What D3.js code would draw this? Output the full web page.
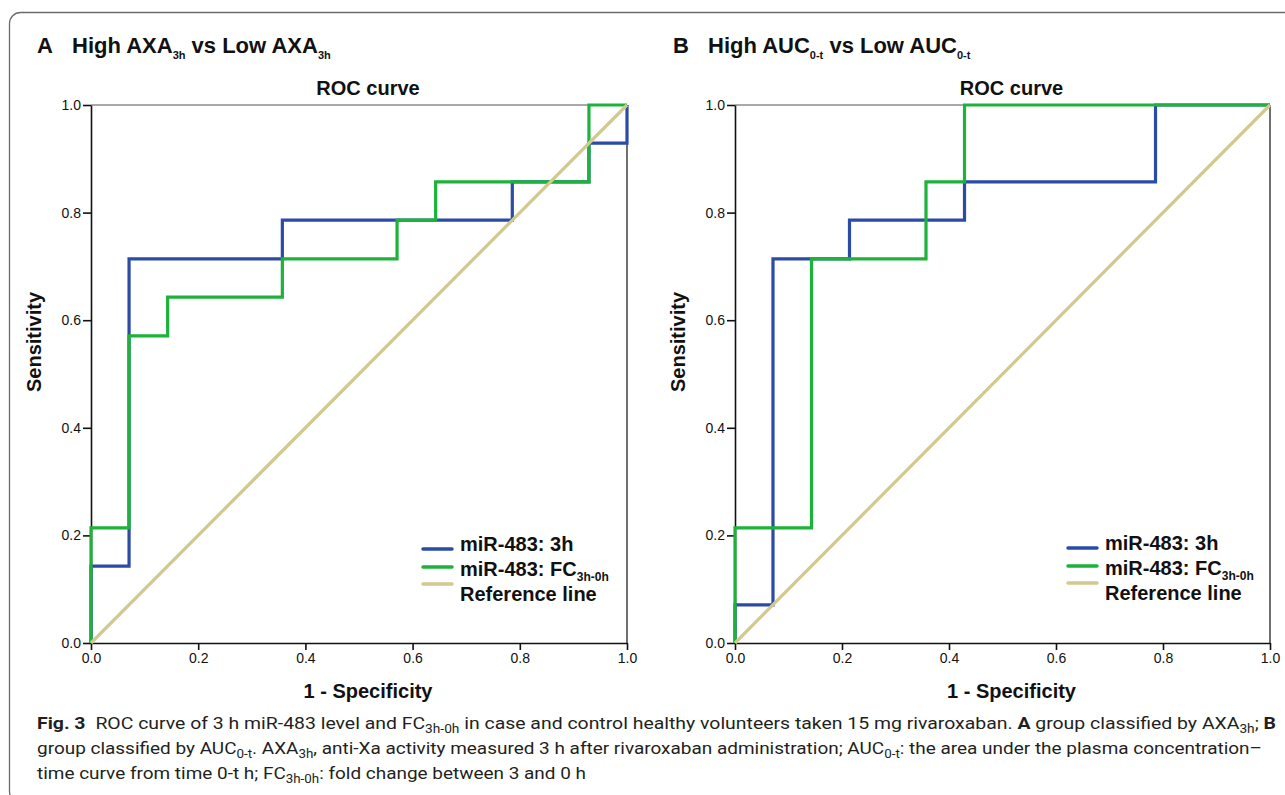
<!DOCTYPE html>
<html>
<head>
<meta charset="utf-8">
<script src="https://cdn.jsdelivr.net/npm/d3@7"></script>
<style>
  body { margin: 0; background: #fff; }
  svg { display: block; }
</style>
</head>
<body>
<div id="chart-area"></div>
<script>
// ---- data (ROC step vertices) ----
var tickValues = [0, 0.2, 0.4, 0.6, 0.8, 1.0];

// Panel A: High AXA3h vs Low AXA3h
var a3hFpr = [0, 0, 0.071, 0.071, 0.357, 0.357, 0.786, 0.786, 0.929, 0.929, 1, 1];
var a3hTpr = [0, 0.143, 0.143, 0.714, 0.714, 0.786, 0.786, 0.857, 0.857, 0.929, 0.929, 1];
var aFcFpr = [0, 0, 0.071, 0.071, 0.143, 0.143, 0.357, 0.357, 0.571, 0.571, 0.643, 0.643, 0.929, 0.929, 1];
var aFcTpr = [0, 0.214, 0.214, 0.571, 0.571, 0.643, 0.643, 0.714, 0.714, 0.786, 0.786, 0.857, 0.857, 1, 1];

// Panel B: High AUC0-t vs Low AUC0-t
var b3hFpr = [0, 0, 0.071, 0.071, 0.214, 0.214, 0.429, 0.429, 0.786, 0.786, 1];
var b3hTpr = [0, 0.071, 0.071, 0.714, 0.714, 0.786, 0.786, 0.857, 0.857, 1, 1];
var bFcFpr = [0, 0, 0.143, 0.143, 0.357, 0.357, 0.429, 0.429, 1];
var bFcTpr = [0, 0.214, 0.214, 0.714, 0.714, 0.857, 0.857, 1, 1];

var refFpr = [0, 1];
var refTpr = [0, 1];

var legendLabels = ["miR-483: 3h", "miR-483: FC", "Reference line"];
var colors = { blue: "#2b4ba6", green: "#1db33a", ref: "#d2c98f" };

var W = 1285, H = 795;
var FONT = "'Liberation Sans', Arial, sans-serif";

var svg = d3.select("#chart-area")
	.append("svg")
		.attr("width", W)
		.attr("height", H)
		.attr("font-family", FONT);

// outer figure frame (runs off the right edge)
svg.append("rect")
	.attr("x", 9.5).attr("y", 12.5)
	.attr("width", 1320).attr("height", 790)
	.attr("rx", 11)
	.attr("fill", "none")
	.attr("stroke", "#6b6b6b")
	.attr("stroke-width", 1.3);

function zip(xs, ys) {
	return xs.map((v, i) => [v, ys[i]]);
}

function drawPanel(opt) {
	var x = d3.scaleLinear().domain([0, 1]).range([opt.left, opt.right]);
	var y = d3.scaleLinear().domain([0, 1]).range([opt.bottom, opt.top]);
	var g = svg.append("g");

	// panel heading, e.g. "A  High AXA3h vs Low AXA3h"
	var head = g.append("text")
		.attr("x", opt.headX).attr("y", 53)
		.attr("font-size", "22px").attr("font-weight", "bold")
		.attr("fill", "#111");
	head.append("tspan").text(opt.letter);
	head.append("tspan").attr("x", opt.headX + 35).text("High " + opt.meas);
	head.append("tspan").attr("font-size", "11px").attr("dy", 6).text(opt.sub);
	head.append("tspan").attr("dy", -6).text(" vs Low " + opt.meas);
	head.append("tspan").attr("font-size", "11px").attr("dy", 6).text(opt.sub);

	// chart title
	g.append("text")
		.attr("x", (opt.left + opt.right) / 2 + 9).attr("y", 95)
		.attr("text-anchor", "middle")
		.attr("font-size", "20px").attr("font-weight", "bold")
		.attr("fill", "#111")
		.text("ROC curve");

	// frame top and right
	g.append("line")
		.attr("x1", x(0)).attr("x2", x(1)).attr("y1", y(1)).attr("y2", y(1))
		.attr("stroke", "#555").attr("stroke-width", 1);
	g.append("line")
		.attr("x1", x(1)).attr("x2", x(1)).attr("y1", y(1)).attr("y2", y(0))
		.attr("stroke", "#222").attr("stroke-width", 1.3);

	var yAxis = d3.axisLeft(y).tickValues(tickValues).tickFormat(d3.format(".1f"))
		.tickSize(8).tickSizeOuter(0).tickPadding(2);
	var xAxis = d3.axisBottom(x).tickValues(tickValues).tickFormat(d3.format(".1f"))
		.tickSize(7).tickSizeOuter(0).tickPadding(3);

	var yg = g.append("g").attr("transform", "translate(" + opt.left + ",0)").call(yAxis);
	var xg = g.append("g").attr("transform", "translate(0," + opt.bottom + ")").call(xAxis);
	[yg, xg].forEach(a => {
		a.selectAll("path, line").attr("stroke", "#111").attr("stroke-width", 1.6);
		a.selectAll("text").attr("font-size", "14px").attr("fill", "#111").attr("font-family", FONT);
	});

	// axis titles
	g.append("text")
		.attr("transform", "translate(" + (opt.left - 50) + "," + 342 + ") rotate(-90)")
		.attr("text-anchor", "middle")
		.attr("font-size", "20px").attr("font-weight", "bold").attr("fill", "#111")
		.text("Sensitivity");
	g.append("text")
		.attr("x", (opt.left + opt.right) / 2 + 9).attr("y", 698)
		.attr("text-anchor", "middle")
		.attr("font-size", "20px").attr("font-weight", "bold").attr("fill", "#111")
		.text("1 - Specificity");

	var line = d3.line().x(d => x(d[0])).y(d => y(d[1]));
	var series = [
		{ pts: zip(opt.fpr3h, opt.tpr3h), c: colors.blue },
		{ pts: zip(opt.fprFc, opt.tprFc), c: colors.green },
		{ pts: zip(refFpr, refTpr), c: colors.ref }
	];
	g.selectAll("path.roc")
		.data(series)
		.enter()
		.append("path")
		.attr("class", "roc")
		.attr("d", d => line(d.pts))
		.attr("fill", "none")
		.attr("stroke", d => d.c)
		.attr("stroke-width", 3.2)
		.attr("stroke-linejoin", "miter");

	// legend
	var lg = g.append("g");
	var markY = [0, 18, 35];
	var textY = [2, 27, 52];
	legendLabels.forEach((lab, i) => {
		lg.append("line")
			.attr("x1", opt.legX).attr("x2", opt.legX + 29)
			.attr("y1", opt.legY + markY[i]).attr("y2", opt.legY + markY[i])
			.attr("stroke", series[i].c).attr("stroke-width", 3.5)
			.attr("stroke-linecap", "round");
		var t = lg.append("text")
			.attr("x", opt.legX + 37).attr("y", opt.legY + textY[i])
			.attr("font-size", "20px").attr("font-weight", "bold").attr("fill", "#111")
			.text(lab);
		if (i === 1) {
			t.append("tspan").attr("font-size", "12px").attr("dy", 5).text("3h-0h");
		}
	});
}

drawPanel({
	letter: "A", meas: "AXA", sub: "3h", headX: 37,
	left: 91, right: 627, top: 105, bottom: 643,
	fpr3h: a3hFpr, tpr3h: a3hTpr, fprFc: aFcFpr, tprFc: aFcTpr,
	legX: 423, legY: 549
});
drawPanel({
	letter: "B", meas: "AUC", sub: "0-t", headX: 673,
	left: 735, right: 1270, top: 105, bottom: 643,
	fpr3h: b3hFpr, tpr3h: b3hTpr, fprFc: bFcFpr, tprFc: bFcTpr,
	legX: 1068, legY: 548
});

// ---- caption ----
var CAP = "Roboto, 'Open Sans', sans-serif";
var capLines = [
	{ y: 729, len: 1239, parts: [
		["Fig. 3", "b"], ["\u2002ROC curve of 3 h miR-483 level and FC", ""], ["3h-0h", "s"],
		[" in case and control healthy volunteers taken 15 mg rivaroxaban. ", ""], ["A", "b"],
		[" group classified by AXA", ""], ["3h", "s"], ["; ", ""], ["B", "b"]] },
	{ y: 754, len: 1225, parts: [
		["group classified by AUC", ""], ["0-t", "s"], [". AXA", ""], ["3h", "s"],
		[", anti-Xa activity measured 3 h after rivaroxaban administration; AUC", ""], ["0-t", "s"],
		[": the area under the plasma concentration\u2013", ""]] },
	{ y: 779, len: 549, parts: [
		["time curve from time 0-t h; FC", ""], ["3h-0h", "s"], [": fold change between 3 and 0 h", ""]] }
];
capLines.forEach(l => {
	var t = svg.append("text")
		.attr("x", 37).attr("y", l.y)
		.attr("font-family", CAP).attr("font-size", "17px")
		.attr("fill", "#231f20")
		.attr("textLength", l.len).attr("lengthAdjust", "spacingAndGlyphs");
	var shifted = false;
	l.parts.forEach(p => {
		var s = t.append("tspan").text(p[0]);
		if (p[1] === "b") s.attr("font-weight", "bold");
		if (p[1] === "s") { s.attr("font-size", "12px").attr("dy", 4); shifted = true; }
		else if (shifted) { s.attr("dy", -4); shifted = false; }
	});
});
</script>
</body>
</html>
